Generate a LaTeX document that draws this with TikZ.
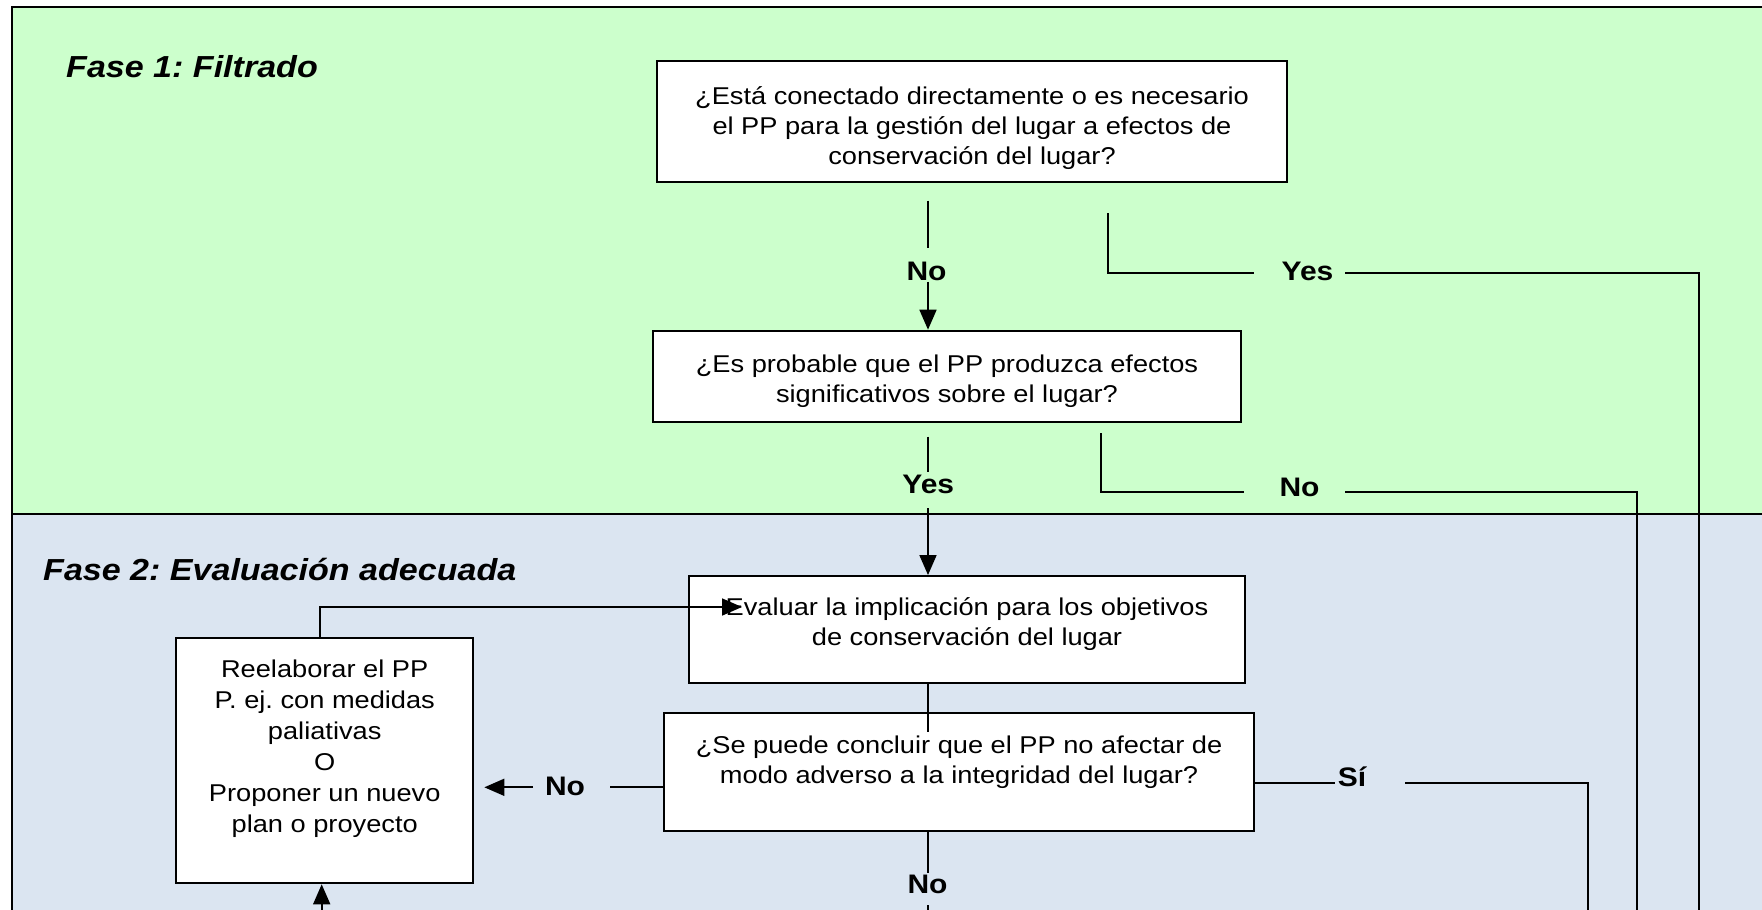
\documentclass[tikz,border=0pt]{standalone}
\usepackage{fontspec}
\setmainfont{Liberation Sans}[FakeStretch=1.12]
\usetikzlibrary{arrows.meta,calc}
\definecolor{phaseone}{RGB}{204,255,204}
\definecolor{phasetwo}{RGB}{219,229,241}
\newcommand{\mlines}[1]{\begin{tabular}[t]{@{}c@{}}#1\end{tabular}}
\frenchspacing
\begin{document}
\begin{tikzpicture}[x=1pt,y=-1pt,
  box/.style={draw=black, line width=2pt, fill=white, inner sep=0pt},
  txt/.style={inner sep=0pt, anchor=base, font=\fontsize{24.3}{30}\selectfont},
  lbl/.style={inner sep=0pt, anchor=base, font=\fontsize{26.8}{30}\selectfont\bfseries},
  ttl/.style={inner sep=0pt, anchor=base west, font=\fontsize{30.4}{36}\selectfont\bfseries\itshape},
  conn/.style={line width=1.7pt},
  arr/.style={conn, -{Triangle[length=20pt,width=17pt]}},
  frame/.style={line width=2pt}
]
\useasboundingbox (0,0) rectangle (1762,910);
\clip (0,0) rectangle (1762,910);
\fill[white] (0,0) rectangle (1762,910);
% phase bands
\fill[phaseone] (11.5,6.7) rectangle (1800,514.3);
\fill[phasetwo] (11.5,514.3) rectangle (1800,930);
\draw[frame] (1800,6.7) -- (11.5,6.7) -- (11.5,930);
\draw[frame] (11.5,514.3) -- (1800,514.3);

% titles
\node[ttl] (f1) at (66,77) {Fase 1: Filtrado};
\node[ttl] (f2) at (43,580) {Fase 2: Evaluación adecuada};

% boxes
\node[box, minimum width=630pt, minimum height=121pt] (b1) at (972,121.2) {};
\node[box, minimum width=588pt, minimum height=91pt] (b2) at (947,376.2) {};
\node[box, minimum width=556pt, minimum height=107.3pt] (b3) at (967,629.7) {};
\node[box, minimum width=590pt, minimum height=117.8pt] (b4) at (959,771.6) {};
\node[box, minimum width=297.3pt, minimum height=245.6pt] (b5) at (324.7,760.5) {};

% box texts
\node[txt] (t1) at (972,104) {\mlines{¿Está conectado directamente o es necesario\\el PP para la gestión del lugar a efectos de\\conservación del lugar?}};
\node[txt] (t2) at (947,372) {\mlines{¿Es probable que el PP produzca efectos\\significativos sobre el lugar?}};
\node[txt, font=\fontsize{24.3}{31}\selectfont] (t5) at (324.7,677) {\mlines{Reelaborar el PP\\P. ej. con medidas\\paliativas\\O\\Proponer un nuevo\\plan o proyecto}};

% labels
\node[lbl] (l1) at (926.5,280) {No};
\node[lbl] (l2) at (1307.5,280) {Yes};
\node[lbl] (l3) at (928.3,493) {Yes};
\node[lbl] (l4) at (1299.5,496.7) {No};
\node[lbl] (l5) at (1352,786.7) {Sí};
\node[lbl] (l6) at (565,795) {No};
\node[lbl] (l7) at (927.5,893.3) {No};

% coordinates for connector ends
\coordinate (vx) at (928,0);
\coordinate (a1) at (928,200.7);
\coordinate (a2) at (928,248.3);
\coordinate (a3) at (928,281.7);
\coordinate (a4) at (928,436.7);
\coordinate (a5) at (928,471.7);
\coordinate (a6) at (928,508);
\coordinate (y1) at (1108.3,213.3);
\coordinate (y2) at (1254,272.7);
\coordinate (y3) at (1345,272.7);
\coordinate (y4) at (1699,930);
\coordinate (n1) at (1101,433.3);
\coordinate (n2) at (1244,491.7);
\coordinate (n3) at (1345,491.7);
\coordinate (n4) at (1637,930);
\coordinate (r1) at (320,607);
\coordinate (r2) at (742,607);
\coordinate (c34) at (928,731.7);
\coordinate (s1) at (1335,783.3);
\coordinate (s2) at (1405,783.3);
\coordinate (s3) at (1588.3,930);
\coordinate (q1) at (610,787.3);
\coordinate (q2) at (533,787.3);
\coordinate (d1) at (928,873);
\coordinate (d2) at (928,905);
\coordinate (d3) at (928,930);
\coordinate (u1) at (321.7,930);

% phase 1 connectors
\draw[conn] (a1) -- (a2);
\draw[arr] (a3) -- (a3 |- b2.north);
\draw[conn] (y1) |- (y2);
\draw[conn] (y3) -| (y4);
\draw[conn] (a4) -- (a5);
\draw[arr] (a6) -- (a6 |- b3.north);
\draw[conn] (n1) |- (n2);
\draw[conn] (n3) -| (n4);

% phase 2 connectors
\draw[arr] (b5.north -| r1) |- (r2);
\draw[conn] (b3.south -| vx) -- (c34);
\draw[conn] (b4.east |- s1) -- (s1);
\draw[conn] (s2) -| (s3);
\draw[conn] (b4.west |- q1) -- (q1);
\draw[arr, shorten >=10pt] (q2) -- (b5.east |- q2);
\draw[conn] (b4.south -| vx) -- (d1);
\draw[conn] (d2) -- (d3);
\draw[arr] (u1) -- (u1 |- b5.south);

% texts drawn over connectors (as in the reference)
\node[txt] (t3) at (967,615) {\mlines{Evaluar la implicación para los objetivos\\de conservación del lugar}};
\node[txt] (t4) at (959,753) {\mlines{¿Se puede concluir que el PP no afectar de\\modo adverso a la integridad del lugar?}};
\end{tikzpicture}
\end{document}
